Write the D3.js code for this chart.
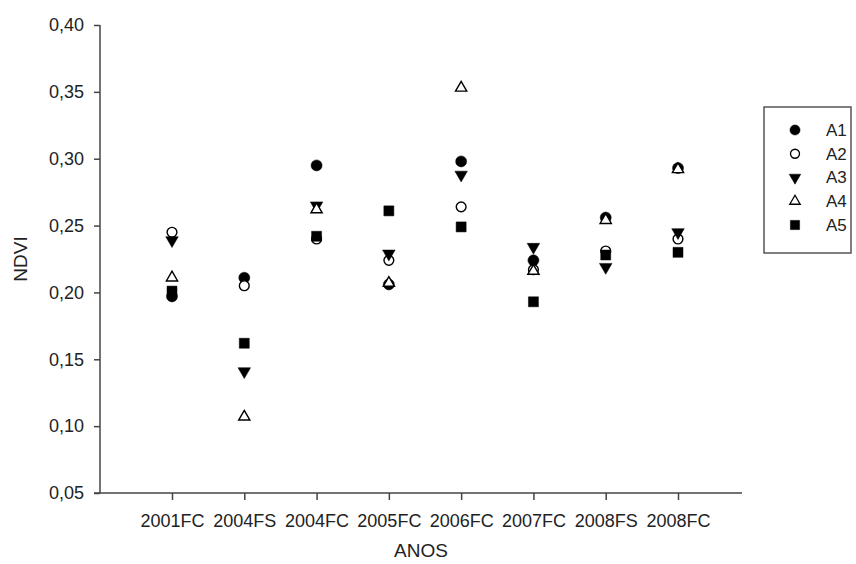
<!DOCTYPE html>
<html>
<head>
<meta charset="utf-8">
<script src="https://cdn.jsdelivr.net/npm/d3@7"></script>
<style>
  body { margin: 0; background: #fff; }
  text { font-family: "Liberation Sans", Arial, sans-serif; fill: #222; }
</style>
</head>
<body>
<div id="chart"></div>
<script>
// categories on the x axis
var anos = ['2001FC', '2004FS', '2004FC', '2005FC', '2006FC', '2007FC', '2008FS', '2008FC'];

// NDVI per area
var a1 = [0.197, 0.211, 0.295, 0.206, 0.298, 0.224, 0.256, 0.293];
var a2 = [0.245, 0.205, 0.240, 0.224, 0.264, 0.217, 0.231, 0.240];
var a3 = [0.239, 0.141, 0.265, 0.229, 0.288, 0.234, 0.219, 0.245];
var a4 = [0.211, 0.107, 0.262, 0.207, 0.353, 0.216, 0.254, 0.292];
var a5 = [0.201, 0.162, 0.242, 0.261, 0.249, 0.193, 0.228, 0.230];

var seriesNames = ['A1', 'A2', 'A3', 'A4', 'A5'];
var yTicks = [0.05, 0.10, 0.15, 0.20, 0.25, 0.30, 0.35, 0.40];

// size = symbol area for the plot markers
var series = [
  {name: 'A1', values: a1, type: d3.symbolCircle, open: false, rot: 0, size: 95},
  {name: 'A2', values: a2, type: d3.symbolCircle, open: true, rot: 0, size: 75},
  {name: 'A3', values: a3, type: d3.symbolTriangle, open: false, rot: 180, size: 68},
  {name: 'A4', values: a4, type: d3.symbolTriangle, open: true, rot: 0, size: 55},
  {name: 'A5', values: a5, type: d3.symbolSquare, open: false, rot: 0, size: 100}
];

var width = 856, height = 564,
    axisLeft = 100, axisRight = 742,
    plotTop = 25, plotBottom = 493;

var svg = d3.select('#chart').append('svg')
    .attr('width', width)
    .attr('height', height);

var x = d3.scalePoint().domain(anos).range([172, 678]);
var y = d3.scaleLinear().domain([0.05, 0.40]).range([plotBottom, plotTop]);

var fmt = d3.formatLocale({decimal: ',', thousands: '.', grouping: [3], currency: ['', '']}).format('.2f');

// y axis
var yAxis = svg.append('g')
    .attr('transform', 'translate(' + axisLeft + ',0)')
    .call(d3.axisLeft(y).tickValues(yTicks).tickFormat(fmt).tickSize(6).tickSizeOuter(0).tickPadding(10));
yAxis.select('.domain').remove();
yAxis.selectAll('.tick line').attr('stroke', '#444').attr('stroke-width', 1.5);
yAxis.selectAll('.tick text').style('font-size', '18px').attr('fill', '#222');

// x axis
var xAxis = svg.append('g')
    .attr('transform', 'translate(0,' + plotBottom + ')')
    .call(d3.axisBottom(x).tickSize(7).tickSizeOuter(0).tickPadding(14));
xAxis.select('.domain').remove();
xAxis.selectAll('.tick line').attr('stroke', '#444').attr('stroke-width', 1.5);
xAxis.selectAll('.tick text').style('font-size', '18px').attr('fill', '#222');

// axis lines
svg.append('line')
    .attr('x1', axisLeft).attr('x2', axisLeft)
    .attr('y1', plotTop).attr('y2', plotBottom)
    .attr('stroke', '#444').attr('stroke-width', 1.5);
svg.append('line')
    .attr('x1', axisLeft - 6).attr('x2', axisRight)
    .attr('y1', plotBottom).attr('y2', plotBottom)
    .attr('stroke', '#444').attr('stroke-width', 1.5);

// axis titles
svg.append('text')
    .attr('x', 421).attr('y', 557)
    .attr('text-anchor', 'middle')
    .style('font-size', '19px')
    .text('ANOS');
svg.append('text')
    .attr('transform', 'translate(27,' + (plotTop + plotBottom) / 2 + ') rotate(-90)')
    .attr('text-anchor', 'middle')
    .style('font-size', '19px')
    .text('NDVI');

function marker(s, size) {
  return d3.symbol().type(s.type).size(size)();
}

// points
series.forEach(function(s) {
  svg.append('g')
    .selectAll('path')
    .data(s.values)
    .enter().append('path')
    .attr('d', marker(s, s.size))
    .attr('transform', function(d, i) {
      return 'translate(' + x(anos[i]) + ',' + y(d) + ') rotate(' + s.rot + ')';
    })
    .attr('fill', s.open ? '#fff' : '#000')
    .attr('stroke', '#000')
    .attr('stroke-width', s.open ? 1.4 : 0.5);
});

// legend
var legend = svg.append('g');
legend.append('rect')
    .attr('x', 764).attr('y', 107)
    .attr('width', 87).attr('height', 146)
    .attr('fill', '#fff')
    .attr('stroke', '#555').attr('stroke-width', 1.5);

var ly = d3.scalePoint().domain(seriesNames).range([130, 225]);

series.forEach(function(s) {
  legend.append('path')
    .attr('d', marker(s, s.size * 0.85))
    .attr('transform', 'translate(795,' + ly(s.name) + ') rotate(' + s.rot + ')')
    .attr('fill', s.open ? '#fff' : '#000')
    .attr('stroke', '#000')
    .attr('stroke-width', s.open ? 1.3 : 0.5);
  legend.append('text')
    .attr('x', 826).attr('y', ly(s.name))
    .attr('dy', '0.35em')
    .style('font-size', '17px')
    .text(s.name);
});
</script>
</body>
</html>
